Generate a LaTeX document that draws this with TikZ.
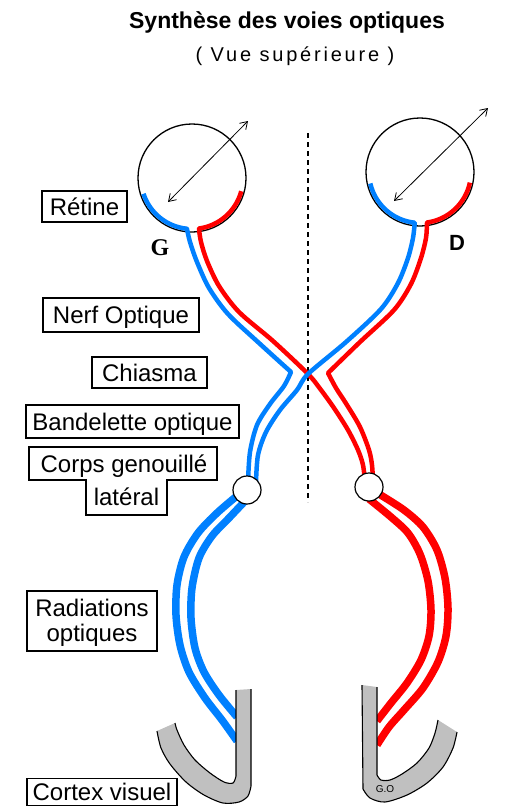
\documentclass[tikz,border=0pt]{standalone}
\usepackage{fontspec}
\setmainfont{Liberation Sans}
\newfontfamily\lettreserif{Liberation Serif}
\usetikzlibrary{arrows.meta}
\definecolor{fibreblue}{RGB}{0,128,255}
\definecolor{fibrered}{RGB}{255,0,0}
\definecolor{cortexgray}{RGB}{192,192,192}
\begin{document}
\begin{tikzpicture}[x=1pt,y=-1pt,
  tagtext/.style={font=\fontsize{24}{25}\selectfont, inner sep=0pt, text height=17pt, text depth=0pt},
  tagbox/.style={tagtext, draw, line width=1.2pt},
  nerve/.style={line width=4.5pt, line join=round},
  radiation/.style={line width=7.5pt, line join=round},
  eyeball/.style={line width=1.3pt},
  visualaxis/.style={line width=0.8pt, {Straight Barb[length=7pt,width=9pt]}-{Straight Barb[length=7pt,width=9pt]}},
  relay/.style={circle, draw, fill=white, line width=1.2pt, minimum size=28pt, inner sep=0pt},
  cortexedge/.style={line width=1.1pt},
  midline/.style={line width=1.2pt, dash pattern=on 5pt off 4pt},
  sidemark/.style={font=\fontsize{22}{22}\selectfont\bfseries, inner sep=0pt}
]
\useasboundingbox (0,0) rectangle (532,806);

% ---- headings
\node[font=\fontsize{23}{26}\selectfont\bfseries] (title) at (287,22) {Synthèse des voies optiques};
\node[font=\fontsize{20}{24}\selectfont\addfontfeatures{LetterSpace=14}] (subtitle) at (295,56) {( Vue supérieure )};

% ---- median plane
\coordinate (midtop) at (308,133);
\coordinate (midbot) at (308,502);
\draw[midline] (midtop) -- (midbot);

% ---- eyeballs and visual axes
\coordinate (eyeL) at (192,178);
\coordinate (eyeR) at (420,172);
\draw[eyeball] (eyeL) circle[radius=54];
\draw[eyeball] (eyeR) circle[radius=54];
\coordinate (axL1) at (168,202); \coordinate (axL2) at (248,121);
\coordinate (axR1) at (394,201); \coordinate (axR2) at (488,108);
\draw[visualaxis] (axL1) -- (axL2);
\draw[visualaxis] (axR1) -- (axR2);
\node[sidemark, font=\fontsize{24}{24}\selectfont\lettreserif\bfseries] (G) at (160,248) {G};
\node[sidemark] (D) at (457,243) {D};

% ---- left eye: temporal (uncrossed) and nasal (crossing) fibres
\draw[nerve, fibreblue] (eyeL) ++(162:51) arc[start angle=162, end angle=96, radius=51]
  -- plot[smooth] coordinates {(187,229) (190,242) (197,262) (209,288) (228,314) (259,343) (291,372)}
  -- plot[smooth] coordinates {(291,372) (284,386) (270,404) (257,425) (250,452) (248,482)};
\draw[nerve, fibrered] (eyeL) ++(15:51) arc[start angle=15, end angle=82, radius=51]
  -- plot[smooth] coordinates {(199,229) (201,242) (207,261) (219,286) (239,312) (273,341) (308,374) (321,390) (334,408) (348,430) (358,450) (363,465) (365,482)};

% ---- right eye: nasal (crossing) and temporal (uncrossed) fibres
\draw[nerve, fibreblue] (eyeR) ++(167:51) arc[start angle=167, end angle=96, radius=51]
  -- plot[smooth] coordinates {(414.7,223) (413,238) (408,258) (398,283) (381,309) (346,342) (308,374) (297,390) (280,410) (266,432) (258,455) (256,482)};
\draw[nerve, fibrered] (eyeR) ++(12:51) arc[start angle=12, end angle=82, radius=51]
  -- plot[smooth] coordinates {(427,223) (426,238) (421,258) (411,284) (394,310) (360,342) (328,373)}
  -- plot[smooth] coordinates {(328,373) (336,388) (347,405) (360,427) (369,450) (372,465) (373,482)};

% ---- optic radiations
\draw[radiation, fibreblue] plot[smooth] coordinates {(238,495) (217,513) (198,533) (184,557) (177,585) (176,615) (180,645) (189,672) (205,698) (222,720) (237,741)};
\draw[radiation, fibreblue] plot[smooth] coordinates {(246,500) (229,518) (212,536) (199,558) (192,588) (191,618) (195,648) (204,672) (219,695) (237,717)};
\draw[radiation, fibrered] plot[smooth] coordinates {(379,494) (404,510) (423,527) (437,550) (445,578) (448,608) (446,636) (438,662) (423,688) (404,710) (389,727) (377,745)};
\draw[radiation, fibrered] plot[smooth] coordinates {(369,499) (391,517) (408,533) (420,554) (428,581) (431,610) (429,636) (421,660) (407,683) (391,703) (377,721)};

% ---- lateral geniculate bodies
\node[relay] (cglL) at (247,490) {};
\node[relay] (cglR) at (369,487) {};

% ---- visual cortex (left hemisphere)
\fill[cortexgray] (236,690) -- plot[smooth] coordinates {(236,776) (233,783) (224,782) (210,773) (195,760) (184,745) (177,730) (175,723)}
  -- plot[smooth] coordinates {(157,731) (161,748) (170,764) (186,782) (204,795) (223,803) (239,802) (248,796) (251,786)}
  -- (251,689) -- cycle;
\draw[cortexedge] (236,690) -- plot[smooth] coordinates {(236,776) (233,783) (224,782) (210,773) (195,760) (184,745) (177,730) (175,723)};
\draw[cortexedge] plot[smooth] coordinates {(157,731) (161,748) (170,764) (186,782) (204,795) (223,803) (239,802) (248,796) (251,786)} -- (251,689);

% ---- visual cortex (right hemisphere)
\fill[cortexgray] (377,687) -- plot[smooth] coordinates {(377,775) (381,780) (390,780) (402,774) (417,763) (429,748) (435,733) (438,720)}
  -- plot[smooth] coordinates {(457,732) (453,748) (443,767) (427,783) (407,795) (385,802) (370,798) (363,789)}
  -- (362,685) -- cycle;
\draw[cortexedge] (377,687) -- plot[smooth] coordinates {(377,775) (381,780) (390,780) (402,774) (417,763) (429,748) (435,733) (438,720)};
\draw[cortexedge] plot[smooth] coordinates {(457,732) (453,748) (443,767) (427,783) (407,795) (385,802) (370,798) (363,789)} -- (362,685);
\node[font=\fontsize{10}{10}\selectfont, inner sep=0pt] (GO) at (385,789) {G.O};

% ---- labels
\node[tagbox, minimum width=85pt, minimum height=31pt] (retine) at (84.5,206.5) {Rétine};
\node[tagbox, minimum width=156pt, minimum height=34pt] (nerf) at (121,315) {Nerf Optique};
\node[tagbox, minimum width=115pt, minimum height=31pt] (chiasma) at (149.5,372.5) {Chiasma};
\node[tagbox, minimum width=213pt, minimum height=33pt] (bandelette) at (132.5,421.5) {Bandelette optique};

\node[tagtext] (corps) at (124,463.5) {Corps genouillé};
\node[tagtext] (lateral) at (126.5,497) {latéral};
\draw[line width=1.2pt] (29,447) -- (217,447) -- (217,480) -- (167,480) -- (167,515)
  -- (86,515) -- (86,480) -- (29,480) -- cycle;

\draw[line width=1.2pt] (27,591) rectangle (157,651);
\node[tagtext] (radiations) at (92,607.5) {Radiations};
\node[tagtext] (optiques) at (92,633) {optiques};

\node[tagbox, minimum width=150pt, minimum height=27pt] (cortex) at (102,792) {Cortex visuel};
\end{tikzpicture}
\end{document}
